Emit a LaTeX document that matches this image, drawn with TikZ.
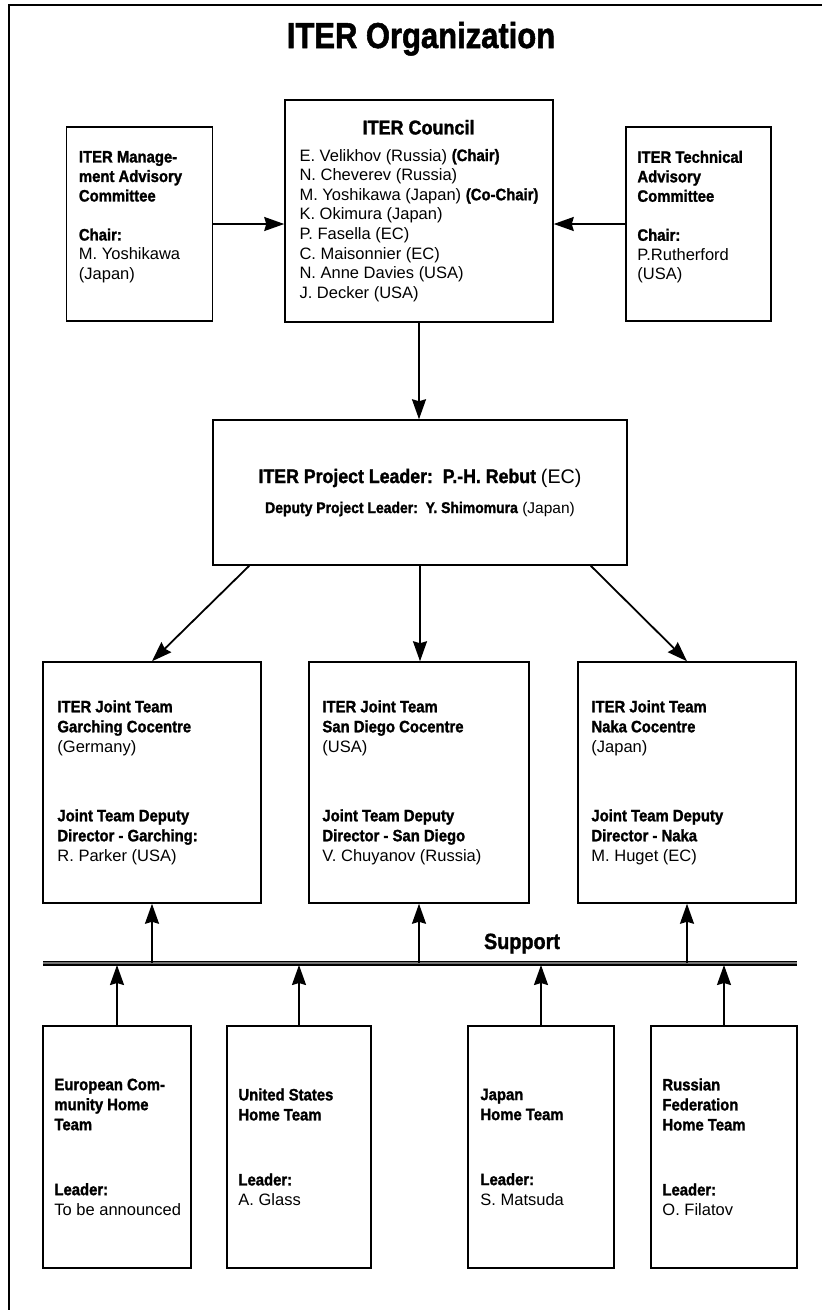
\documentclass[tikz,border=0pt]{standalone}
\usepackage{fontspec}
\setmainfont{Liberation Sans}[BoldFeatures={FakeStretch=0.9,FakeBold=1.5}]
\newfontfamily\headfont{Liberation Sans}[FakeStretch=0.86,BoldFeatures={FakeBold=1.5}]
\usetikzlibrary{arrows.meta,positioning}

\tikzset{
  orgbox/.style={draw, line width=1.5pt, inner sep=0pt},
  orgtext/.style={anchor=west, align=left, inner sep=0pt,
    font=\fontsize{16.5}{20}\selectfont},
  link/.style={line width=1.8pt, -{Stealth[length=20pt,width=14pt,inset=2pt]}},
  supportbar/.style={draw=black, line width=1.4pt, double=black!55, double distance=2.2pt}
}

\begin{document}
\begin{tikzpicture}[x=1pt,y=-1pt]
    \useasboundingbox (0,0) rectangle (822,1310);

    % Outer frame
    \draw[line width=2.8pt] (822,5) -- (9,5) -- (9,1310);

    % Title
    \node[anchor=base, font=\headfont\bfseries\fontsize{36}{40}\selectfont] (title) at (421,48) {ITER Organization};

    % Council and advisory committees
    \node[orgbox, minimum width=268pt, minimum height=222pt] (council) at (419,211) {};
    \node[anchor=north, align=left, inner sep=0pt, font=\fontsize{16.5}{19.6}\selectfont]
        (councilnames) at ([yshift=-20.5pt]council.north)
        {\makebox[238pt]{\fontsize{20}{20}\selectfont\bfseries ITER Council}\\[7pt]
         E. Velikhov (Russia) \textbf{(Chair)}\\
         N. Cheverev (Russia)\\
         M. Yoshikawa (Japan) \textbf{(Co-Chair)}\\
         K. Okimura (Japan)\\
         P. Fasella (EC)\\
         C. Maisonnier (EC)\\
         N. Anne Davies (USA)\\
         J. Decker (USA)};

    \node[orgbox, minimum width=146pt, minimum height=194pt] (mgmt) at (139.5,224) {};
    \node[orgtext, font=\fontsize{16.5}{19.5}\selectfont] (mgmttext) at ([shift={(13pt,7pt)}]mgmt.west)
        {\textbf{ITER Manage-}\\\textbf{ment Advisory}\\\textbf{Committee}\\[19.5pt]
         \textbf{Chair:}\\M. Yoshikawa\\(Japan)};

    \node[orgbox, minimum width=145pt, minimum height=194pt] (tech) at (698.5,224) {};
    \node[orgtext, font=\fontsize{16.5}{19.5}\selectfont] (techtext) at ([shift={(12pt,7pt)}]tech.west)
        {\textbf{ITER Technical}\\\textbf{Advisory}\\\textbf{Committee}\\[19.5pt]
         \textbf{Chair:}\\P.Rutherford\\(USA)};

    % Project leader
    \node[orgbox, minimum width=414pt, minimum height=145pt] (leader) at (420,492.5) {};
    \node[align=center, inner sep=0pt, font=\fontsize{15.5}{20}\selectfont] (leadertext) at (leader)
        {{\fontsize{19.7}{20}\selectfont\bfseries ITER Project Leader:\ \ P.-H. Rebut \mdseries(EC)}\\[10pt]
         \textbf{Deputy Project Leader:\ \ Y. Shimomura} (Japan)};

    % Joint team cocentres
    \node[orgbox, minimum width=218pt, minimum height=241pt] (garching) at (152,782.5) {};
    \node[orgtext] (garchingtext) at ([xshift=15pt]garching.west)
        {\textbf{ITER Joint Team}\\\textbf{Garching Cocentre}\\(Germany)\\[49pt]
         \textbf{Joint Team Deputy}\\\textbf{Director - Garching:}\\R. Parker (USA)};

    \node[orgbox, minimum width=220pt, minimum height=241pt] (sandiego) at (419,782.5) {};
    \node[orgtext] (sandiegotext) at ([xshift=14pt]sandiego.west)
        {\textbf{ITER Joint Team}\\\textbf{San Diego Cocentre}\\(USA)\\[49pt]
         \textbf{Joint Team Deputy}\\\textbf{Director - San Diego}\\V. Chuyanov (Russia)};

    \node[orgbox, minimum width=218pt, minimum height=241pt] (naka) at (687,782.5) {};
    \node[orgtext] (nakatext) at ([xshift=14pt]naka.west)
        {\textbf{ITER Joint Team}\\\textbf{Naka Cocentre}\\(Japan)\\[49pt]
         \textbf{Joint Team Deputy}\\\textbf{Director - Naka}\\M. Huget (EC)};

    % Support bar
    \coordinate (supl) at (43,963);
    \coordinate (supr) at (797,963);
    \draw[supportbar] (supl) -- (supr);
    \node[anchor=base, font=\bfseries\fontsize{22}{24}\selectfont] (supportlabel) at (522,949) {Support};

    % Home teams
    \node[orgbox, minimum width=148pt, minimum height=242pt] (ec) at (117,1147) {};
    \node[orgtext] (ectext) at ([xshift=12pt]ec.west)
        {\textbf{European Com-}\\\textbf{munity Home}\\\textbf{Team}\\[45pt]
         \textbf{Leader:}\\To be announced};

    \node[orgbox, minimum width=144pt, minimum height=242pt] (us) at (299,1147) {};
    \node[orgtext] (ustext) at ([xshift=12pt]us.west)
        {\textbf{United States}\\\textbf{Home Team}\\[45pt]
         \textbf{Leader:}\\A. Glass};

    \node[orgbox, minimum width=146pt, minimum height=242pt] (jp) at (541,1147) {};
    \node[orgtext] (jptext) at ([xshift=13pt]jp.west)
        {\textbf{Japan}\\\textbf{Home Team}\\[45pt]
         \textbf{Leader:}\\S. Matsuda};

    \node[orgbox, minimum width=146pt, minimum height=242pt] (ru) at (724,1147) {};
    \node[orgtext] (rutext) at ([xshift=12pt]ru.west)
        {\textbf{Russian}\\\textbf{Federation}\\\textbf{Home Team}\\[45pt]
         \textbf{Leader:}\\O. Filatov};

    % Connectors
    \draw[link] (mgmt.east) -- (mgmt.east -| council.west);
    \draw[link] (tech.west) -- (tech.west -| council.east);
    \draw[link] (council.south) -- (council.south |- leader.north);
    \draw[link] ([xshift=37pt]leader.south west) -- (garching.north);
    \draw[link] (leader.south) -- (leader.south |- sandiego.north);
    \draw[link] ([xshift=-37pt]leader.south east) -- (naka.north);
    \foreach \team in {garching,sandiego,naka}
        \draw[link] (\team.south |- supl) -- (\team.south);
    \foreach \team in {ec,us,jp,ru}
        \draw[link, shorten >=2pt] (\team.north) -- (\team.north |- supl);

\end{tikzpicture}
\end{document}
